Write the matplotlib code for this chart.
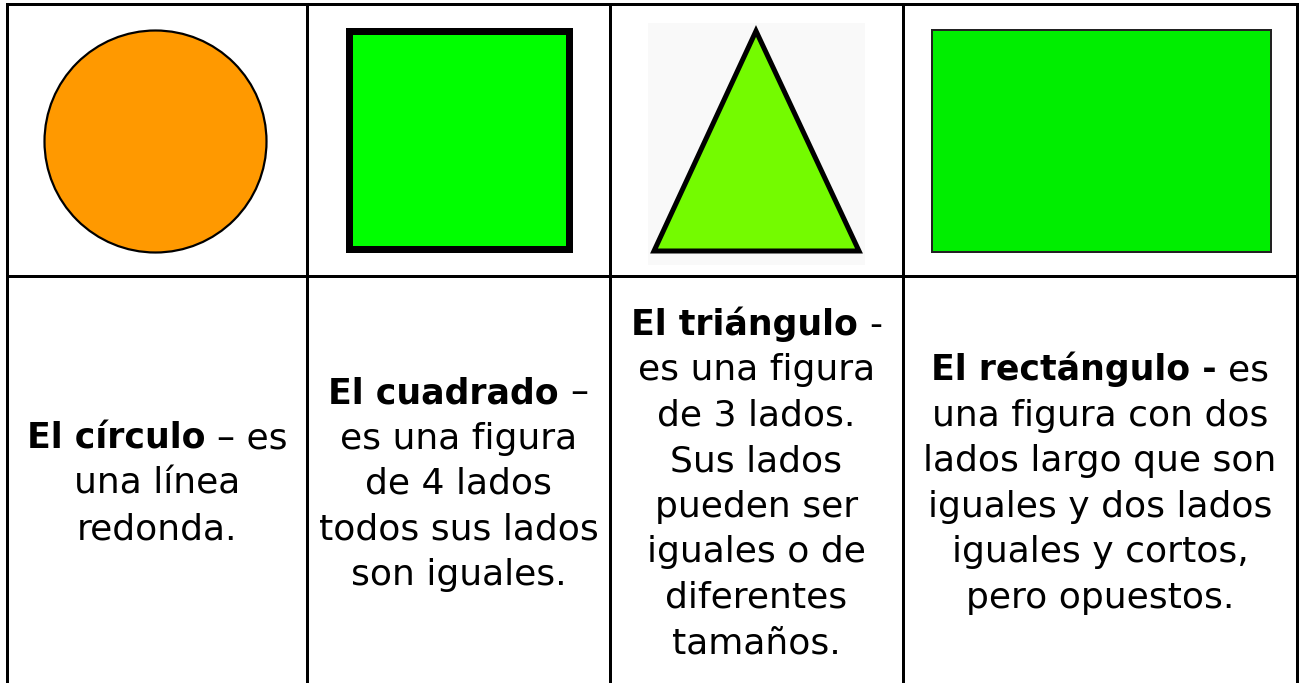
import matplotlib
matplotlib.use("Agg")
import matplotlib.pyplot as plt
from matplotlib.patches import Circle, Rectangle, Polygon

# ---- data ----
shape_names = ["círculo", "cuadrado", "triángulo", "rectángulo"]
shape_colors = ["#FF9900", "#00FF00", "#74FB00", "#00EE00"]
bold_heads = ["El círculo", "El cuadrado", "El triángulo", "El rectángulo -"]
head_tails = ["– es", "–", "-", "es"]
desc_circulo = ["una línea", "redonda."]
desc_cuadrado = ["es una figura", "de 4 lados", "todos sus lados", "son iguales."]
desc_triangulo = ["es una figura", "de 3 lados.", "Sus lados", "pueden ser",
                  "iguales o de", "diferentes", "tamaños."]
desc_rectangulo = ["una figura con dos", "lados largo que son",
                   "iguales y dos lados", "iguales y cortos,", "pero opuestos."]
descriptions = [desc_circulo, desc_cuadrado, desc_triangulo, desc_rectangulo]

# ---- layout ----
W, H = 1301, 683
fig = plt.figure(figsize=(W / 100, H / 100), dpi=100)
ax = fig.add_axes([0, 0, 1, 1])
ax.set_xlim(0, W)
ax.set_ylim(H, 0)
ax.axis("off")
PX = 72 / 100  # points per pixel

col_edges = [7, 307, 610, 903, 1297]
row_top, row_mid = 4, 276
grid_lw = 3 * PX

# table grid
for x in col_edges:
    ax.plot([x, x], [row_top, H + 5], color="black", lw=grid_lw, solid_capstyle="projecting")
for y in [row_top, row_mid]:
    ax.plot([col_edges[0], col_edges[-1]], [y, y], color="black", lw=grid_lw, solid_capstyle="projecting")

# shapes
ax.add_patch(Circle((155.5, 141.5), 111, facecolor=shape_colors[0],
                    edgecolor="black", lw=2.2 * PX))
ax.add_patch(Rectangle((348.5, 30.5), 220, 218, facecolor=shape_colors[1],
                       edgecolor="black", lw=7 * PX, joinstyle="miter"))
ax.add_patch(Rectangle((648, 23), 217, 242, facecolor="#F9F9F9", edgecolor="none"))
ax.add_patch(Polygon([(756, 31), (654, 251), (859, 251)], closed=True,
                     facecolor=shape_colors[2], edgecolor="black", lw=5 * PX,
                     joinstyle="miter"))
ax.add_patch(Rectangle((932, 30), 339, 222, facecolor=shape_colors[3],
                       edgecolor="#222222", lw=2 * PX))

# text
FONT = "DejaVu Sans"
FS = 26
FSB = 25
line_gap = 45.5
mid_baseline = 494

fig.canvas.draw()
renderer = fig.canvas.get_renderer()


def width_px(s, weight, size):
    t = ax.text(0, 0, s, fontsize=size, family=FONT, fontweight=weight)
    w = t.get_window_extent(renderer).width
    t.remove()
    return w


space_w = width_px("x x", "normal", FS) - width_px("xx", "normal", FS)

for i in range(4):
    cx = (col_edges[i] + col_edges[i + 1]) / 2
    lines = descriptions[i]
    n = len(lines) + 1
    ys = [mid_baseline + (k - (n - 1) / 2) * line_gap for k in range(n)]
    wb = width_px(bold_heads[i], "bold", FSB)
    wr = width_px(head_tails[i], "normal", FS)
    total = wb + space_w + wr
    x0 = cx - total / 2
    ax.text(x0, ys[0], bold_heads[i], fontsize=FSB, family=FONT, fontweight="bold",
            ha="left", va="baseline", color="black")
    ax.text(x0 + wb + space_w, ys[0], head_tails[i], fontsize=FS, family=FONT,
            ha="left", va="baseline", color="black")
    for k, ln in enumerate(lines):
        ax.text(cx, ys[k + 1], ln, fontsize=FS, family=FONT, ha="center",
                va="baseline", color="black")

fig.savefig("out.png", dpi=100, facecolor="white")
